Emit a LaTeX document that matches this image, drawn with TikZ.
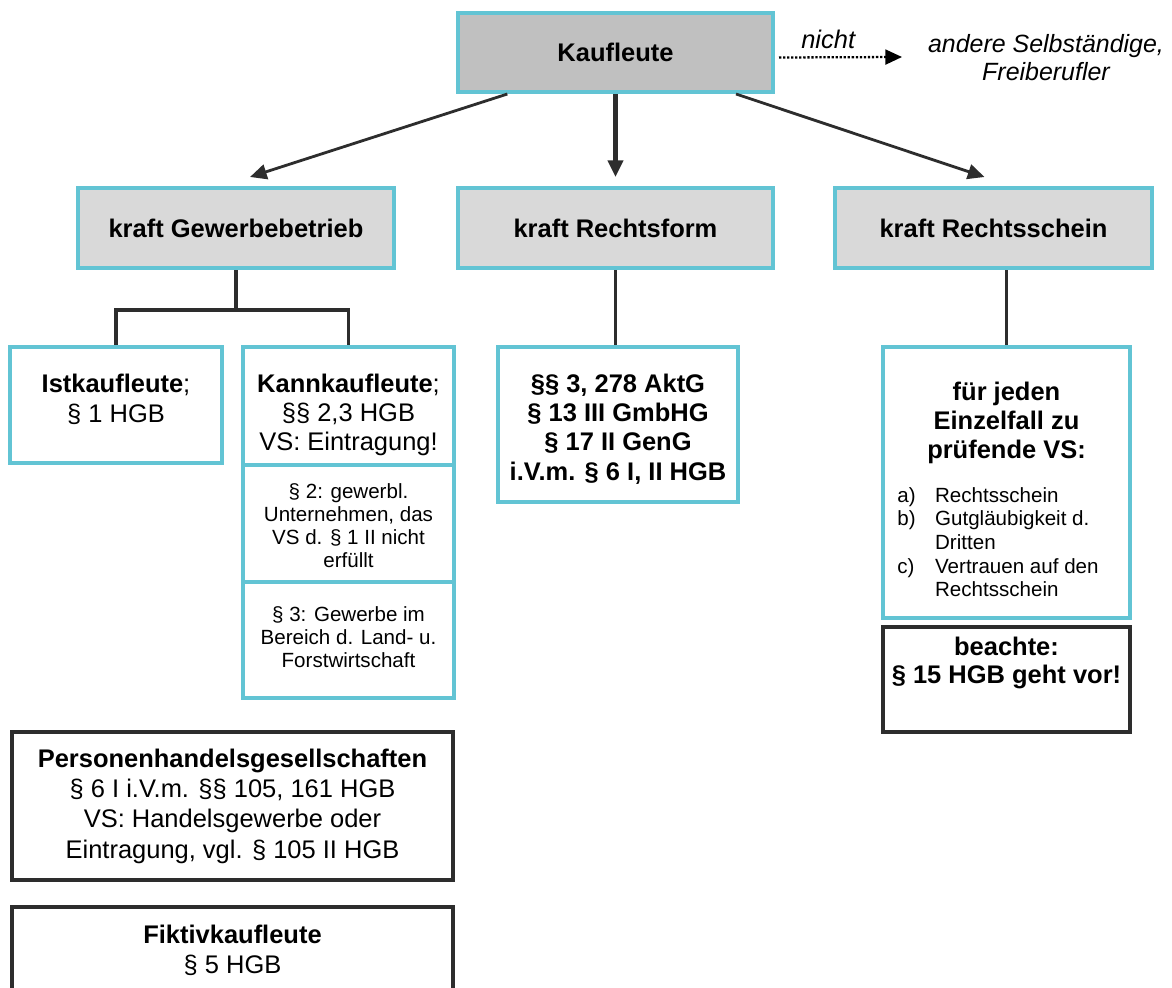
\documentclass[tikz,border=0pt]{standalone}
\usepackage{fontspec}
\setmainfont{Liberation Sans}
\usetikzlibrary{arrows.meta}
\definecolor{tuerkis}{RGB}{98,196,212}
\definecolor{grauKopf}{RGB}{192,192,192}
\definecolor{grauHell}{RGB}{217,217,217}
\definecolor{dunkel}{RGB}{45,45,45}
\newcommand{\gross}{\fontsize{14.5}{16.5}\selectfont}
\newcommand{\klein}{\fontsize{11.7}{13}\selectfont}

\begin{document}
\begin{tikzpicture}[x=0.02cm, y=-0.02cm,
  kopf/.style={draw=tuerkis, fill=grauKopf, line width=2.3pt, minimum width=6.3cm, minimum height=1.58cm, inner sep=0pt, font=\gross\bfseries},
  ebene/.style={kopf, fill=grauHell, minimum height=1.6cm},
  kasten/.style={draw=tuerkis, fill=white, line width=2.3pt, inner sep=0pt},
  rahmen/.style={draw=dunkel, fill=white, line width=1.9pt, inner sep=0pt},
  txt/.style={anchor=base, align=center, inner sep=0pt},
  pfeil/.style={draw=dunkel, line width=1.6pt, -{Triangle[length=9.5pt,width=8.5pt]}},
  ast/.style={draw=dunkel, line width=1.9pt},
]
  \useasboundingbox (0,0) rectangle (1172,987);
  % top box and the "nicht" side branch (text nodes sit on their last baseline)
  \node[kopf] (kauf) at (615.5,52.5) {Kaufleute};
  \coordinate (nichtende) at (902,57);
  \node[txt, font=\itshape\fontsize{14.2}{15.9}\selectfont] (andere) at (1046,80) {andere Selbständige,\\Freiberufler};
  \draw[densely dotted, line width=1.3pt, -{Triangle[length=9.5pt,width=8.5pt]}]
       ([shift={(4,5)}]kauf.east) -- node[pos=0.4, above=4.5pt, inner sep=0pt, font=\itshape\gross] (nicht) {nicht} (nichtende);
  % second level
  \node[ebene, minimum width=6.32cm] (gewerbe) at (236,228) {kraft Gewerbebetrieb};
  \node[ebene] (rform) at (615.5,228) {kraft Rechtsform};
  \node[ebene, minimum width=6.34cm] (rschein) at (993.5,228) {kraft Rechtsschein};
  \draw[pfeil] (kauf.-159) -- ([shift={(14,-9)}]gewerbe.north);
  \draw[pfeil, line width=2.6pt] (kauf.south) -- ([shift={(0,-9)}]rform.north);
  \draw[pfeil] (kauf.-19.5) -- ([shift={(-9,-9)}]rschein.north);
  % kraft Gewerbebetrieb
  \node[kasten, minimum width=4.24cm, minimum height=2.32cm] (ist) at (116,405) {};
  \node[txt, font=\fontsize{14.5}{17}\selectfont] (isttext) at (116,422) {\textbf{Istkaufleute};\\§ 1 HGB};
  \node[kasten, minimum width=4.22cm, minimum height=2.36cm] (kann) at (348.5,406) {};
  \node[txt, font=\fontsize{14.5}{16.4}\selectfont] (kanntext) at (348.5,450) {\textbf{Kannkaufleute};\\§§ 2,3 HGB\\VS: Eintragung!};
  \node[kasten, minimum width=4.22cm, minimum height=2.34cm] (kannzwei) at (348.5,523.5) {};
  \node[txt, font=\klein] (kannzweitext) at (348.5,567) {§ 2: gewerbl.\\Unternehmen, das\\VS d. § 1 II nicht\\erfüllt};
  \node[kasten, minimum width=4.22cm, minimum height=2.32cm] (kanndrei) at (348.5,640) {};
  \node[txt, font=\klein] (kanndreitext) at (348.5,667) {§ 3: Gewerbe im\\Bereich d. Land- u.\\Forstwirtschaft};
  \draw[ast] (gewerbe.south) -- ++(0,40) coordinate (gabel) -| (ist.north);
  \draw[ast] (gabel) -| (kann.north);
  % kraft Rechtsform
  \node[kasten, minimum width=4.8cm, minimum height=3.1cm] (gesetze) at (618,424.5) {};
  \node[txt, font=\bfseries\fontsize{14.5}{16.6}\selectfont] (gesetzetext) at (618,480) {§§ 3, 278 AktG\\§ 13 III GmbHG\\§ 17 II GenG\\i.V.m. § 6 I, II HGB};
  \draw[ast] (rform.south) -- (rform.south |- gesetze.north);
  % kraft Rechtsschein
  \node[kasten, minimum width=4.94cm, minimum height=5.42cm] (schein) at (1006.5,482.5) {};
  \node[txt, font=\bfseries\fontsize{14.5}{16.4}\selectfont] (scheinkopf) at (1006.5,458) {für jeden\\Einzelfall zu\\prüfende VS:};
  \node[anchor=base west, inner sep=0pt, font=\fontsize{11.7}{13.5}\selectfont] (scheinliste) at (897,502)
       {\begin{tabular}[t]{@{}p{21.5pt}@{}l@{}}
        a) & Rechtsschein\\
        b) & Gutgläubigkeit d.\\
           & Dritten\\
        c) & Vertrauen auf den\\
           & Rechtsschein
        \end{tabular}};
  \draw[ast] (schein.north |- rschein.south) -- (schein.north);
  \node[rahmen, minimum width=4.94cm, minimum height=2.1cm] (beachte) at (1006.5,679.5) {};
  \node[txt, font=\bfseries\fontsize{14.5}{15.9}\selectfont] (beachtetext) at (1006.5,683) {beachte:\\§ 15 HGB geht vor!};
  % further groups
  \node[rahmen, minimum width=8.82cm, minimum height=2.96cm] (phg) at (232.5,806) {};
  \node[txt, font=\fontsize{14.5}{17.2}\selectfont] (phgtext) at (232.5,858) {\textbf{Personenhandelsgesellschaften}\\§ 6 I i.V.m. §§ 105, 161 HGB\\VS: Handelsgewerbe oder\\Eintragung, vgl. § 105 II HGB};
  \node[rahmen, minimum width=8.82cm, minimum height=2.06cm] (fiktiv) at (232.5,958.5) {};
  \node[txt, font=\fontsize{14.5}{17}\selectfont] (fiktivtext) at (232.5,973) {\textbf{Fiktivkaufleute}\\§ 5 HGB};
\end{tikzpicture}
\end{document}
